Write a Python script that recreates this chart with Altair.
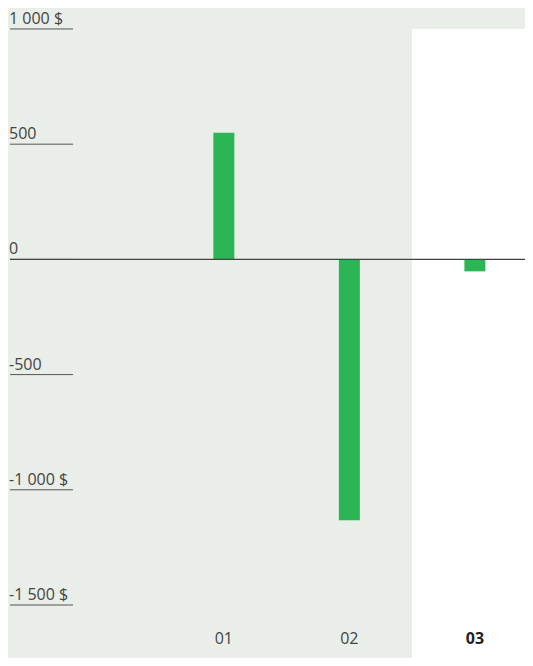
import altair as alt
import pandas as pd

# Data
periods = ["01", "02", "03"]
positions = [1, 2, 3]
values = [550, -1132, -52]
highlighted = [False, False, True]

tick_values = [1000, 500, 0, -500, -1000, -1500]
tick_labels = ["1 000 $", "500", "0", "-500", "-1 000 $", "-1 500 $"]

bars_df = pd.DataFrame({"period": periods, "pos": positions, "value": values, "hl": highlighted})
ticks_df = pd.DataFrame({"v": tick_values, "label": tick_labels})
hl_df = pd.DataFrame({"x": [2.5], "y": [1000]})
zero_df = pd.DataFrame({"v": [0]})

W, H = 517, 650
xscale = alt.Scale(domain=[-0.6797, 3.3594], nice=False, zero=False)
yscale = alt.Scale(domain=[-1730, 1091], nice=False, zero=False)

BG = "#e9eee8"
GREEN = "#2cb555"
FONT = "Open Sans"

highlight = alt.Chart(hl_df).mark_rect(color="white").encode(
    x=alt.X("x:Q", scale=xscale, axis=None),
    x2=alt.value(W),
    y=alt.Y("y:Q", scale=yscale, axis=None),
    y2=alt.value(H),
)

tick_rules = alt.Chart(ticks_df).mark_rule(color="#555555", strokeWidth=1).encode(
    y=alt.Y("v:Q", scale=yscale, axis=None),
    x=alt.value(2),
    x2=alt.value(65),
)

tick_text = alt.Chart(ticks_df).mark_text(
    align="left", baseline="alphabetic", dy=-5, font=FONT, fontSize=16, color="#444444"
).encode(
    y=alt.Y("v:Q", scale=yscale, axis=None),
    x=alt.value(1),
    text="label:N",
)

bars = alt.Chart(bars_df).mark_bar(color=GREEN, size=21).encode(
    x=alt.X("pos:Q", scale=xscale, axis=None),
    y=alt.Y("value:Q", scale=yscale, axis=None),
    y2=alt.datum(0),
)

zero_line = alt.Chart(zero_df).mark_rule(color="#444444", strokeWidth=1.3).encode(
    y=alt.Y("v:Q", scale=yscale, axis=None),
    x=alt.value(2),
    x2=alt.value(W),
)

xlab_regular = alt.Chart(bars_df).transform_filter("!datum.hl").mark_text(
    align="center", baseline="alphabetic", font=FONT, fontSize=16, color="#444444"
).encode(
    x=alt.X("pos:Q", scale=xscale, axis=None),
    y=alt.value(636),
    text="period:N",
)

xlab_bold = alt.Chart(bars_df).transform_filter("datum.hl").mark_text(
    align="center", baseline="alphabetic", font=FONT, fontSize=16, fontWeight="bold", color="#222222"
).encode(
    x=alt.X("pos:Q", scale=xscale, axis=None),
    y=alt.value(636),
    text="period:N",
)

chart = alt.layer(
    highlight, tick_rules, tick_text, bars, zero_line, xlab_regular, xlab_bold
).properties(
    width=W, height=H, background=BG, padding=0,
    autosize=alt.AutoSizeParams(type="none"),
).configure_view(stroke=None)

chart.save("out.html", embed_options={"renderer": "svg", "actions": False})
